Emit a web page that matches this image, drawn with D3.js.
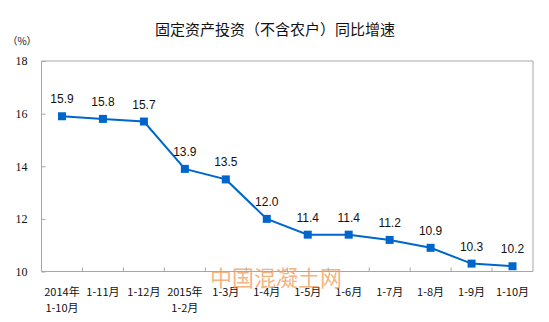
<!DOCTYPE html>
<html>
<head>
<meta charset="utf-8">
<script src="https://cdn.jsdelivr.net/npm/d3@7/dist/d3.min.js"></script>
<style>
  html, body { margin: 0; padding: 0; background: #fff; }
  svg { display: block; }
</style>
</head>
<body>
<svg id="chart" width="549" height="322"></svg>
<script>
// Cumulative year-on-year growth of fixed-asset investment (excluding rural households)
const categories = [
  ["2014年", "1-10月"], ["1-11月"], ["1-12月"], ["2015年", "1-2月"],
  ["1-3月"], ["1-4月"], ["1-5月"], ["1-6月"], ["1-7月"], ["1-8月"], ["1-9月"], ["1-10月"]
];
const growth = [15.9, 15.8, 15.7, 13.9, 13.5, 12.0, 11.4, 11.4, 11.2, 10.9, 10.3, 10.2];
const yTicks = [10, 12, 14, 16, 18];

const title = "固定资产投资（不含农户）同比增速";
const unit = "（%）";
const watermark = "中国混凝土网";

const svg = d3.select("#chart");
const margin = { left: 41.5, right: 16, top: 61, bottom: 50.5 };
const W = 549, H = 322;

const x = d3.scaleBand()
  .domain(d3.range(categories.length))
  .range([margin.left, W - margin.right])
  .padding(0);
const y = d3.scaleLinear()
  .domain([10, 18])
  .range([H - margin.bottom, margin.top]);

const serif = "'Liberation Serif', 'Noto Sans CJK SC', serif";
const cjk = "'Noto Sans CJK SC', 'Liberation Serif', serif";
const sans = "'Liberation Sans', Arial, sans-serif";
const axisColor = "#a6a6a6";

// Title
svg.append("text")
  .attr("x", 275).attr("y", 35)
  .attr("text-anchor", "middle")
  .attr("font-family", cjk)
  .attr("font-size", 15)
  .attr("fill", "#111")
  .text(title);

// Unit
svg.append("text")
  .attr("x", 22).attr("y", 45)
  .attr("text-anchor", "middle")
  .attr("font-family", cjk)
  .attr("font-size", 10)
  .attr("fill", "#111")
  .text(unit);

// Plot frame: left, top, right and bottom borders
const x0 = margin.left, x1 = W - margin.right, yTop = y(18), yBot = y(10);
svg.append("path")
  .attr("d", `M${x0},${yBot}V${yTop}H${x1}V${yBot}H${x0}`)
  .attr("fill", "none")
  .attr("stroke", axisColor)
  .attr("stroke-width", 1);

// Y axis (inside ticks)
const yAxis = d3.axisLeft(y).tickValues(yTicks).tickSize(-4).tickPadding(14)
  .tickFormat(d3.format("d"));
const gy = svg.append("g").attr("transform", `translate(${x0},0)`).call(yAxis);
gy.select(".domain").remove();
gy.selectAll(".tick line").attr("stroke", axisColor);
gy.selectAll(".tick text")
  .attr("font-family", serif)
  .attr("font-size", 12)
  .attr("fill", "#111");

// X axis: ticks on band boundaries, pointing inward
const boundaries = d3.range(1, categories.length).map(i => x(i));
svg.append("g").selectAll("line")
  .data(boundaries)
  .join("line")
  .attr("x1", d => d).attr("x2", d => d)
  .attr("y1", yBot).attr("y2", yBot - 4)
  .attr("stroke", axisColor);

const xl = svg.append("g").selectAll("text")
  .data(categories)
  .join("text")
  .attr("x", (d, i) => x(i) + x.bandwidth() / 2)
  .attr("y", yBot + 24)
  .attr("text-anchor", "middle")
  .attr("font-family", cjk)
  .attr("font-size", 11)
  .attr("fill", "#111");
xl.each(function(d) {
  const t = d3.select(this);
  d.forEach((s, k) => {
    t.append("tspan")
      .attr("x", t.attr("x"))
      .attr("dy", k === 0 ? 0 : 16)
      .text(s);
  });
});

// Series line
const blue = "#0066cc";
const line = d3.line()
  .x((d, i) => x(i) + x.bandwidth() / 2)
  .y(d => y(d));
svg.append("path")
  .datum(growth)
  .attr("d", line)
  .attr("fill", "none")
  .attr("stroke", blue)
  .attr("stroke-width", 2);

// Square markers
const ms = 8;
svg.append("g").selectAll("rect")
  .data(growth)
  .join("rect")
  .attr("x", (d, i) => x(i) + x.bandwidth() / 2 - ms / 2)
  .attr("y", d => y(d) - ms / 2)
  .attr("width", ms).attr("height", ms)
  .attr("fill", blue);

// Value labels
svg.append("g").selectAll("text")
  .data(growth)
  .join("text")
  .attr("x", (d, i) => x(i) + x.bandwidth() / 2)
  .attr("y", d => y(d) - 13)
  .attr("text-anchor", "middle")
  .attr("font-family", sans)
  .attr("font-size", 12)
  .attr("fill", "#111")
  .text(d => d.toFixed(1));

// Site watermark
svg.append("text")
  .attr("x", 276).attr("y", 286)
  .attr("text-anchor", "middle")
  .attr("font-family", cjk)
  .attr("font-size", 22)
  .attr("fill", "#f0a060")
  .attr("fill-opacity", 0.8)
  .text(watermark);
</script>
</body>
</html>
